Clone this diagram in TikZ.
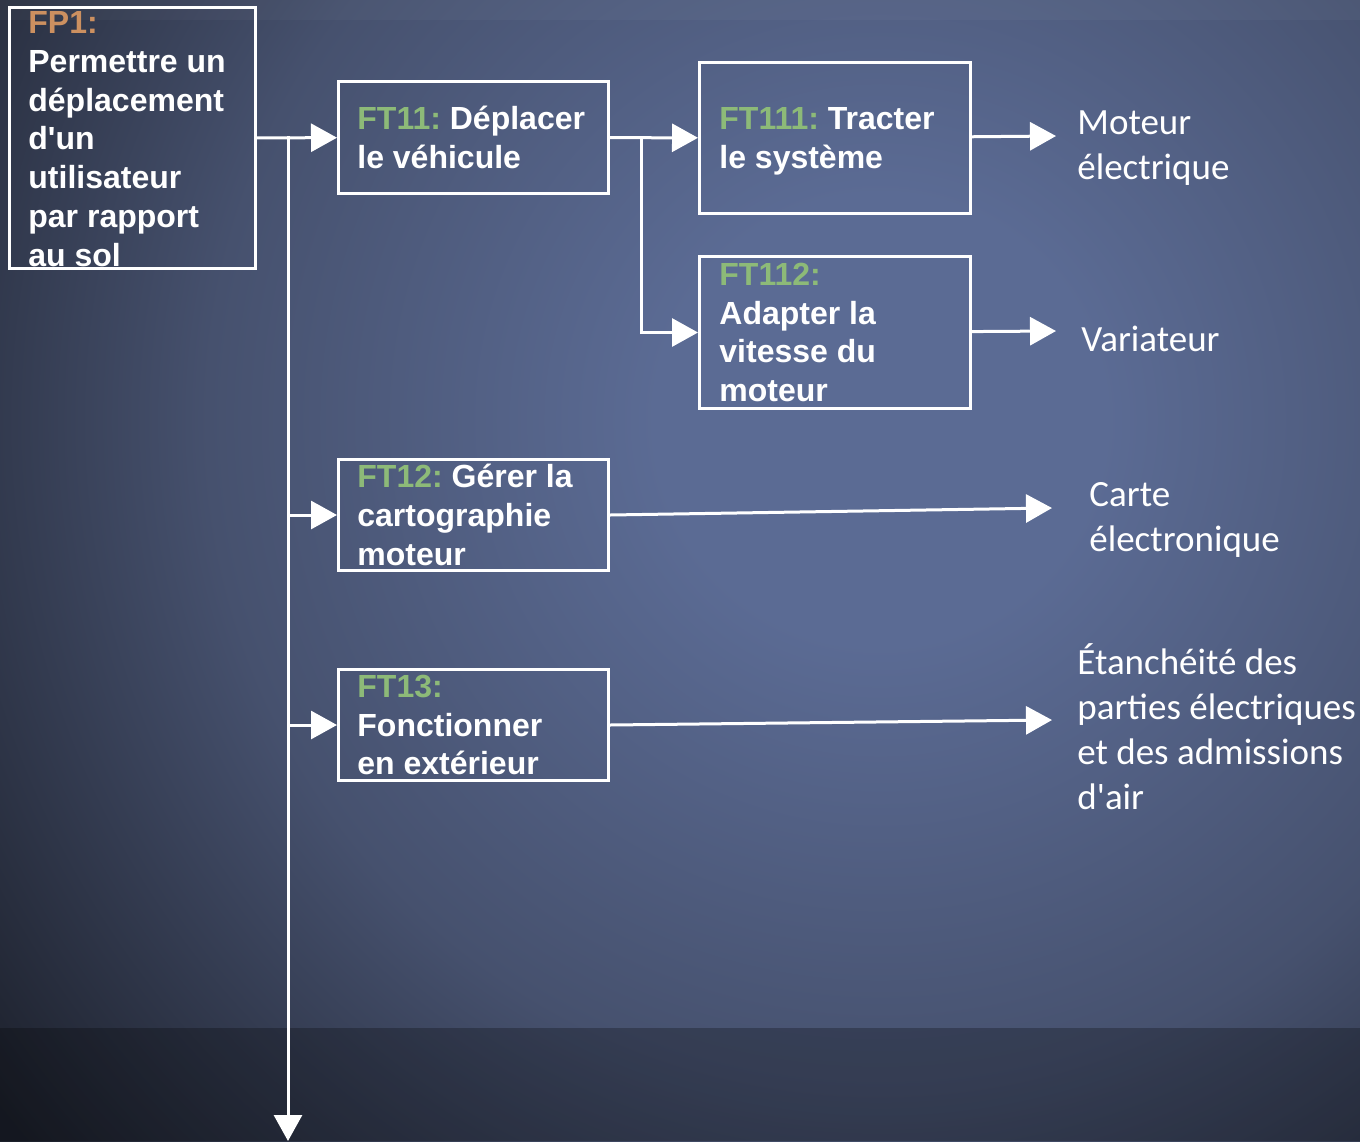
\documentclass[tikz,border=0pt]{standalone}
\usepackage{fontspec}
\setmainfont{Liberation Sans}
\newfontfamily\calib{Carlito}
\usetikzlibrary{arrows.meta}
\frenchspacing
\definecolor{bgin}{HTML}{5B6B94}
\definecolor{bgmid}{HTML}{46516E}
\definecolor{bgout}{HTML}{1C202B}
\definecolor{fporange}{HTML}{CC9060}
\definecolor{ftgreen}{HTML}{8DBA78}
\pgfdeclareradialshading{bgshade}{\pgfpoint{0bp}{0bp}}{color(0bp)=(bgin); color(4bp)=(bgin); color(12bp)=(bgmid); color(20bp)=(bgout); color(50bp)=(bgout)}
\tikzset{
  fbox/.style={draw=white, line width=1.5pt, inner sep=0pt, anchor=north west},
  ftext/.style={text=white, font=\bfseries\fontsize{16}{19.4}\selectfont, align=left, anchor=west, inner sep=0pt},
  outtext/.style={text=white, font=\calib\fontsize{18.5}{22.5}\selectfont, align=left, anchor=west, inner sep=0pt},
  arr/.style={draw=white, line width=1.5pt, -{Triangle[length=13pt,width=14pt]}},
}
\begin{document}
\begin{tikzpicture}[x=0.5pt,y=-0.5pt]
\useasboundingbox (0,0) rectangle (1360,1141);
% background
\begin{scope}
\clip (0,0) rectangle (1360,1141);
\fill[bgout] (0,0) rectangle (1360,1141);
\shade[shading=bgshade] (880,420) circle (1400);
\fill[white,opacity=0.03] (0,0) rectangle (1360,20);
\fill[black,opacity=0.25] (0,1028) rectangle (1360,1141);
\end{scope}
% boxes
\node[fbox, minimum width=123pt, minimum height=130.5pt] (fp1) at (8,6) {};
\node[fbox, minimum width=135pt, minimum height=56pt] (ft11) at (337,80) {};
\node[fbox, minimum width=135.5pt, minimum height=75.5pt] (ft111) at (698,61) {};
\node[fbox, minimum width=135.5pt, minimum height=76pt] (ft112) at (698,255) {};
\node[fbox, minimum width=135pt, minimum height=55.5pt] (ft12) at (337,458) {};
\node[fbox, minimum width=135pt, minimum height=55.5pt] (ft13) at (337,668) {};
% texts of the boxes
\node[ftext] (fp1t) at (28,139) {{\color{fporange}FP1:}\\Permettre un\\d\'eplacement\\d\textquotesingle un\\utilisateur\\par rapport\\au sol};
\node[ftext] (ft11t) at (357,137.5) {{\color{ftgreen}FT11:} D\'eplacer\\le v\'ehicule};
\node[ftext] (ft111t) at (719,141.5) {{\color{ftgreen}FT111:} Tracter\\le syst\`eme};
\node[ftext] (ft112t) at (719,332.5) {{\color{ftgreen}FT112:}\\Adapter la\\vitesse du\\moteur};
\node[ftext] (ft12t) at (357,515) {{\color{ftgreen}FT12:} G\'erer la\\cartographie\\moteur};
\node[ftext] (ft13t) at (357,725) {{\color{ftgreen}FT13:}\\Fonctionner\\en ext\'erieur};
% solutions
\node[outtext] (moteur) at (1077,148) {Moteur\\\'electrique};
\node[outtext] (variateur) at (1081,339) {Variateur};
\node[outtext] (carte) at (1089,519.5) {Carte\\\'electronique};
\node[outtext] (etanch) at (1077,727) {\'Etanch\'eit\'e des\\parties \'electriques\\et des admissions\\d\textquotesingle air};
\coordinate (trunk) at (288,136);
\coordinate (bottom) at (288,1141);
\coordinate (fork) at (641,136);
\coordinate (m1) at (1056,136);
\coordinate (m2) at (1056,331);
\coordinate (m3) at (1052,508);
\coordinate (m4) at (1052,720);
% connectors
\draw[arr] (fp1) -- (ft11);
\draw[arr] (trunk) -- (bottom);
\draw[arr] (trunk |- ft12) -- (ft12);
\draw[arr] (trunk |- ft13) -- (ft13);
\draw[arr] (ft11) -- (ft111);
\draw[arr] (fork) |- (ft112);
\draw[arr] (ft111) -- (m1);
\draw[arr] (ft112) -- (m2);
\draw[arr] (ft12.east) -- (m3);
\draw[arr] (ft13.east) -- (m4);
\end{tikzpicture}
\end{document}
